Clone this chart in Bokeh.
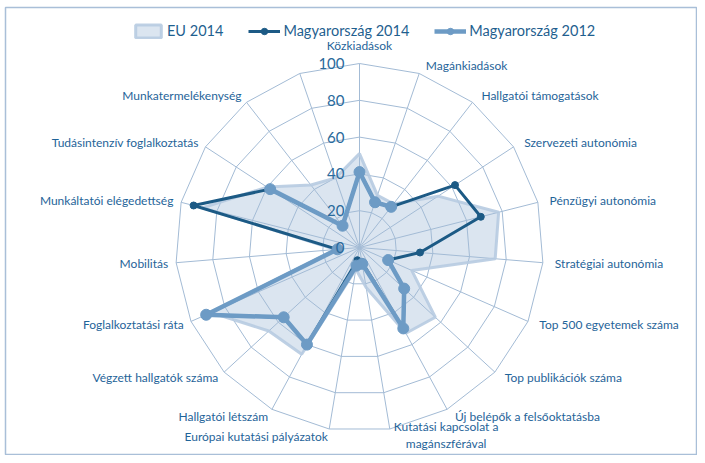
import numpy as np
from bokeh.plotting import figure
from bokeh.models import Range1d, ColumnDataSource, Legend, LegendItem
from bokeh.core.properties import value
from bokeh.embed import file_html
from bokeh.resources import INLINE

# ---------------- data ----------------
categories = [
    "Közkiadások", "Magánkiadások", "Hallgatói támogatások", "Szervezeti autonómia",
    "Pénzügyi autonómia", "Stratégiai autonómia", "Top 500 egyetemek száma",
    "Top publikációk száma", "Új belépők a felsőoktatásba",
    "Kutatási kapcsolat a\nmagánszférával", "Európai kutatási pályázatok",
    "Hallgatói létszám", "Végzett hallgatók száma", "Foglalkoztatási ráta",
    "Mobilitás", "Munkáltatói elégedettség", "Tudásintenzív foglalkoztatás",
    "Munkatermelékenység", "",
]
eu_2014 = [51, 30, 30, 51, 78, 74, 31, 56, 53, 22, 12, 66, 67, 88, 13, 88, 60, 43, 40]
hu_2014 = [41, 26, 28, 62, 68, 33, 17, 33, 50, 8, 7, 60, 56, 91, 12, 93, 58, 15, None]
hu_2012 = [41, 26, 28, None, None, None, 17, 33, 50, 9, 10, 60, 56, 91, 12, None, 58, 15, None]
ticks = [0, 20, 40, 60, 80, 100]
tick_labels = ["0", "20", "40", "60", "80", "100"]

# ---------------- styling / geometry ----------------
W, H = 697, 455
BL, BT = 5, 7              # border offsets of the frame
FW, FH = W - BL, H - BT
CX, CY = 359 - BL, 247 - BT   # centre in frame px (from top-left)
S = 1.84                   # px per value unit
GRID = "#a3bbd5"
TXT = "#1f6499"
DARK = "#1c5a85"
LIGHT = "#6d9bc5"
FONT = "Lato"

n = len(categories)
ang = np.pi / 2 - 2 * np.pi * np.arange(n) / n
cs, sn = np.cos(ang), np.sin(ang)

p = figure(width=W, height=H,
           x_range=Range1d(-CX / S, (FW - CX) / S),
           y_range=Range1d(-(FH - CY) / S, CY / S),
           x_axis_type=None, y_axis_type=None,
           output_backend="svg", toolbar_location=None,
           min_border_left=BL, min_border_top=BT, min_border_right=0, min_border_bottom=0)
p.grid.visible = False
p.outline_line_color = "#a9bfd8"
p.outline_line_width = 1.5
p.background_fill_color = "white"
p.border_fill_color = "white"

eu = np.array(eu_2014, dtype=float)
eu_fill = p.patch(list(eu * cs), list(eu * sn), fill_color="#dbe5f0", line_color=None)

# grid rings (polygons) and spokes
rx, ry = [], []
for r in ticks[1:]:
    rx.append(list(np.append(r * cs, r * cs[0])))
    ry.append(list(np.append(r * sn, r * sn[0])))
p.multi_line(rx, ry, line_color=GRID, line_width=1)
p.segment(x0=[0] * n, y0=[0] * n, x1=list(ticks[-1] * cs), y1=list(ticks[-1] * sn),
          line_color=GRID, line_width=1)

eu_line = p.patch(list(eu * cs), list(eu * sn), fill_color=None,
                  line_color="#b7cbe1", line_width=3, line_alpha=0.9)


def series_path(vals):
    idx = [i for i in range(n) if categories[i] != ""]
    idx.append(idx[0])
    xs, ys = [], []
    for i in idx:
        v = vals[i]
        if v is None:
            xs.append(np.nan); ys.append(np.nan)
        else:
            xs.append(v * cs[i]); ys.append(v * sn[i])
    return xs, ys


def series_pts(vals):
    xs = [v * cs[i] for i, v in enumerate(vals) if v is not None]
    ys = [v * sn[i] for i, v in enumerate(vals) if v is not None]
    return xs, ys


x14, y14 = series_path(hu_2014)
l14 = p.line(x14, y14, line_color=DARK, line_width=3, line_join="round")
px14, py14 = series_pts(hu_2014)
m14 = p.scatter(px14, py14, size=7, fill_color=DARK, line_color=DARK)

x12, y12 = series_path(hu_2012)
l12 = p.line(x12, y12, line_color=LIGHT, line_width=4.5, line_join="round")
px12, py12 = series_pts(hu_2012)
m12 = p.scatter(px12, py12, size=11, fill_color=LIGHT, line_color=LIGHT)

# category labels
lx, ly, la, lb = [], [], [], []
R = ticks[-1]
for i, lab in enumerate(categories):
    c, s_ = cs[i], sn[i]
    x = R * c + 8 * c / S
    y = R * s_ + 8 * s_ / S
    if abs(c) < 0.05:
        align, base = "center", ("bottom" if s_ > 0 else "top")
        y += 3 / S
    elif "\n" in lab:
        w = max(len(t) for t in lab.split("\n")) * 5.1
        x += (4 + w / 2) / S
        y += 2 / S
        align, base = "center", "middle"
    elif c > 0:
        x += 4 / S
        align, base = "left", "middle"
    else:
        align, base = "right", "middle"
    lx.append(x); ly.append(y); la.append(align); lb.append(base)

src = ColumnDataSource(dict(x=lx, y=ly, t=categories, a=la, b=lb))
p.text(x="x", y="y", text="t", text_align="a", text_baseline="b", source=src,
       text_font=value(FONT), text_font_size="12px", text_color=TXT,
       text_line_height=1.1)

# radial tick labels
p.text(x=[-15 / S] * len(ticks), y=ticks, text=tick_labels, text_align="right",
       text_baseline="middle", text_font=value(FONT), text_font_size="15px",
       text_color="#2a6a9c")

legend = Legend(items=[
    LegendItem(label="EU 2014", renderers=[eu_fill, eu_line]),
    LegendItem(label="Magyarország 2014", renderers=[l14, m14]),
    LegendItem(label="Magyarország 2012", renderers=[l12, m12]),
], orientation="horizontal", location=(127, FH - 32),
    glyph_width=32, glyph_height=16, label_height=16, label_standoff=3,
    spacing=25, padding=0, margin=0, border_line_color=None,
    background_fill_alpha=0, label_text_font=FONT, label_text_font_size="14.5px",
    label_text_color="#1f5f8f")
p.add_layout(legend)

open("out.html", "w").write(file_html(p, INLINE))
